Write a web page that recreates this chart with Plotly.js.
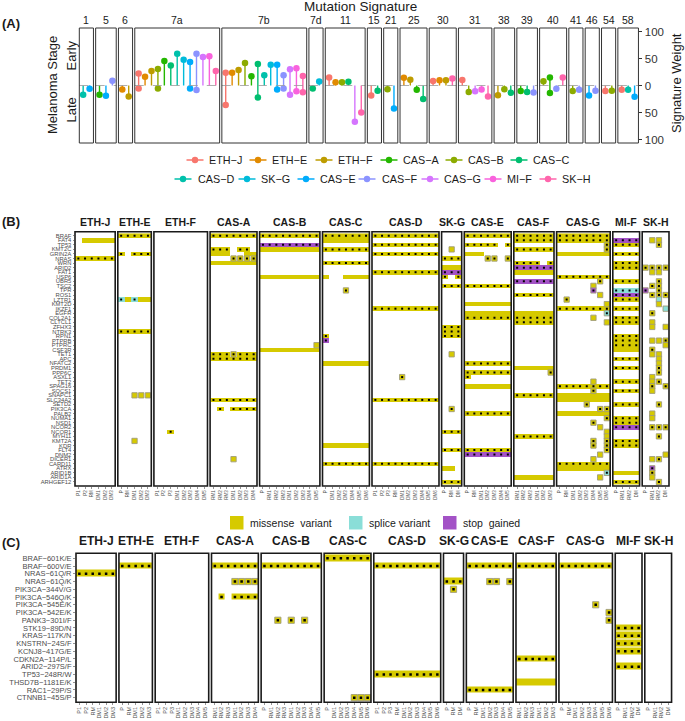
<!DOCTYPE html>
<html><head><meta charset="utf-8">
<script src="https://cdn.plot.ly/plotly-3.0.1.min.js"></script>
<style>html,body{margin:0;padding:0;background:#fff}</style>
</head><body><div id="chart" style="width:685px;height:721px"></div>
<script>
// ================= DATA =================
// Panel A : mutation signatures (early = up, late = down)
const sigNames = ['1','5','6','7a','7b','7d','11','15','21','25','30','31','38','39','40','41','46','54','58'];
const sigPatients = [
 ['CAS-D','CAS-E'],
 ['CAS-A','CAS-E','CAS-F'],
 ['ETH-E','ETH-F'],
 ['ETH-J','ETH-E','ETH-F','CAS-B','CAS-A','CAS-C','CAS-D','SK-G','CAS-E','CAS-F','CAS-G','MI-F','SK-H'],
 ['ETH-J','ETH-E','ETH-F','CAS-B','CAS-A','CAS-C','CAS-D','SK-G','CAS-E','CAS-F','CAS-G','MI-F','SK-H'],
 ['CAS-C','SK-G'],
 ['ETH-J','ETH-E','CAS-B','CAS-C','CAS-G','SK-H'],
 ['ETH-J','CAS-C'],
 ['CAS-B','CAS-E'],
 ['ETH-E','ETH-F','CAS-A','CAS-C'],
 ['ETH-J','ETH-E','ETH-F','SK-H'],
 ['ETH-J','CAS-B','CAS-G','MI-F','SK-H'],
 ['ETH-F','CAS-B','CAS-C'],
 ['CAS-A','CAS-C','CAS-F'],
 ['CAS-B','CAS-A','CAS-F','SK-H'],
 ['CAS-B','CAS-F'],
 ['CAS-E','CAS-F'],
 ['ETH-J','CAS-B'],
 ['ETH-J','CAS-D','CAS-E']
];
const sigEarly = [
 [0,0],[0,0,9],[0,0],
 [22,16,27,30.5,45.5,37,59,47.5,43.5,59,53,54,27],
 [23.5,23.5,28.5,41.5,17,40,19,38.5,38.5,19,30,32,17.5],
 [0,7.5],[15,6,6,7,0,0],[0,0],[0,0],[14.5,10.5,0,0],[8.5,9.5,9.5,13],
 [10,0,0,0,0],[0,0,0],[0,0,0],[8,15,0,15],[0,0],[0,0],[0,0],[0,0,0]
];
const sigLate = [
 [17,6],[17,19,0],[7.5,20.5],
 [5.5,0,0,5.5,0,0,0,0,5.5,8.5,0,0,0],
 [36,0,0,0,0,22,0,0,7.5,5.5,17,10.5,12.5],
 [5.5,0],[0,0,0,0,67,50],[18.5,9.5],[7,42.5],[0,0,8,25],[0,0,0,0],
 [0,12,10.5,7.5,20.5],[18,7,13.5],[10,12,13],[0,14,6,0],[10,8],[18.5,9.5],[10,9.5],[8,8,21]
];
const patientNames  = ['ETH-J','ETH-E','ETH-F','CAS-B','CAS-A','CAS-C','CAS-D','SK-G','CAS-E','CAS-F','CAS-G','MI-F','SK-H'];
const patientColors = ['#F8766D','#E18A00','#BE9C00','#8CAB00','#24B700','#00BE70','#00C1AB','#00BBDA','#00ACFC','#8B93FF','#D575FE','#F962DD','#FF65AC'];
const legendRow1 = ['ETH-J','ETH-E','ETH-F','CAS-A','CAS-B','CAS-C'];
const legendRow2 = ['CAS-D','SK-G','CAS-E','CAS-F','CAS-G','MI-F','SK-H'];

// Panels B & C : facets and samples
const facets = ['ETH-J','ETH-E','ETH-F','CAS-A','CAS-B','CAS-C','CAS-D','SK-G','CAS-E','CAS-F','CAS-G','MI-F','SK-H'];
const sampleLabels = [
 ['P1','P2','RM','DM1','DM2','DM3'],
 ['P','RM','DM1','DM2','DM3'],
 ['P1','P2','P3','DM1','DM2','DM3','DM4','DM5'],
 ['RM1','RM2','RM3','DM1','DM2','DM3','DM4'],
 ['P','RM1','RM2','RM3','DM1','DM2','DM3','DM4','DM5'],
 ['P','DM1','DM2','DM3','DM4','DM5','DM6'],
 ['P1','P2','P3','RM','DM1','DM2','DM3','DM4','DM5','DM6'],
 ['P','RM','DM'],
 ['P','RM','DM1','DM2','DM3','DM4','DM5'],
 ['RM1','RM2','RM3','DM1','DM2','DM3'],
 ['P','RM','DM1','DM2','DM3','DM4','DM5','DM6'],
 ['P','RM1','RM2','DM'],
 ['P','RM1','RM2','DM']
];
const genesB = ['BRAF','FAT4','TP53','KMT2C','GRIN2A','NRAS','WRN','ARID2','FAT1','USP6','UBR5','TSC2','TPR','ROS1','LZTR1','KMT2D','IKZF1','EGFR','COL2A1','CLTCL1','ZFHX3','NTRK3','RPN1','PTPRB','PTPRC','CSF3R','TET1','APC','NFATC2','PRDM1','PPP6C','ASXL1','TET2','SPAG16','SOCS1','SNAPC1','SLC34A2','SETD2','PIK3CA','PALB2','NUMA1','NSD1','NCOR2','NCOR1','MYH11','KMT2A','KDR','FLT4','DNM2','DICER1','CARD11','ATRX','ARID1B','ARID1A','ARHGEF12'];
// cell codes: m missense, s splice, x stop gained ; upper case = marked (dot) ;
// b/B, c/C, p/P = same three types drawn as outlined single tiles
const mutB = [
 ['1:.mmmmm','5:MMMMMM'],
 ['0:MMMMM','4:M.MMM','14:SmSmm','21:MMMMM','35:..bbb','45:..b..'],
 ['43:..M.....'],
 ['0:MMMMMMM','3:MMM.MM.','4:mmm..mm','5:...BBBB','6:mmmmmmm','26:MMMBMMM','27:MMMMMMM','36:MMMMMMM','38:.M.MMMM','49:...b...'],
 ['0:MMMMMMMMM','2:XXXXXXXXX','3:mmmmmmmmm','9:mmmmmmmmm','24:........b','25:mmmmmmmmm'],
 ['0:MMMMMMM','1:mmmmmmm','3:MMMMMMM','6:MMMMMMM','9:m..mmmm','12:...B...','22:M......','23:X......','28:mmmmmmm','46:mmmmmmm','50:MMMMMMM'],
 ['0:MMMMMMMMMM','2:MMMMMMMMMM','4:MMMMMMMMMM','8:MMMMMMMMMM','16:MMMMMMMMMM','31:....B.....','36:MMMMMMMMMM','50:MMMMMMMMMM'],
 ['3:.b.','5:MMM','7:mmm','8:XXX','9:M.M','11:MMM','20:MMM','21:MMM','22:MMM','26:.b.','38:.B.','43:MMM','47:MMM','51:mm.','54:MMM'],
 ['0:MMMMMMM','2:MMMMM.M','4:mmm....','5:...BB.B','11:MMMMMMM','15:mmmmmmm','17:mmmmmmm','18:MMMMMMM','28:MMMMMMM','30:MMMMMMM','31:M......','33:mmmmmmm','39:MMMMMMM','47:MMMMMMM','48:XXXXXXX'],
 ['0:MMMMMM','1:MMMMMM','3:MMMMMM','6:MMMM.M','7:XXXXXX','8:mmmmmm','10:XXXXXX','13:MMMMMM','17:mmmmmm','18:MMMMMM','19:MMMMMM','29:mmmmmm','30:.....B','35:MMMMMM','44:MMMMMM','53:mmmmmm'],
 ['0:MMMMMMMM','1:MMMMMMMM','2:.......B','3:.......B','4:mmmmmmmm','9:MMMMMMMM','10:......B.','11:.....b..','12:.....P..','13:......b.','14:.B......','15:.......b','16:MMMMMMMM','17:.......C','18:.....b..','19:.......b','32:.....b..','33:MMMMMMMM','34:.....B..','35:mmmmmmmm','36:mmmmmmmm','37:....B...','38:......BB','39:mmmmmmmm','40:.......B','41:.....B..','42:......b.','43:.......b','44:.......b','45:.....B.B','46:.....B.B','47:.......B','48:......b.','49:.....b..','50:MMMMMMMM','51:mmmmmmmm','52:.......C','53:......b.'],
 ['1:XXXX','2:MMMM','4:MMMM','6:MMMM','7:MMMM','10:MMMM','12:SSSS','13:XXXX','14:MMMM','16:MMMM','18:MMMM','19:MMMM','22:MMMM','23:MMMM','24:MMMM','25:mmmm','27:MMMM','29:MMMM','32:MMMM','34:MMMM','37:MMMM','40:MMMM','41:MMMM','42:XXXX','45:MMMM','46:MMMM','52:mmmm','54:MMMM'],
 ['1:.bb.','2:..B.','7:BBBB','8:.bb.','10:..B.','11:.BB.','12:P.B.','13:.BBB','14:..c.','15:..b.','16:...c','17:.B..','19:.b..','20:.b.b','23:.bbB','24:...b','25:.B..','26:.bb.','27:..b.','28:..b.','29:..B.','30:..B.','31:.b..','32:.bB.','33:.B.B','34:.b..','37:..B.','39:.b..','40:.b..','42:.BBB','44:..B.','48:...b','49:.bB.','51:.P..','52:.B..','53:.b..','54:..B.']
];
const mutationsC = ['BRAF-601K/E','BRAF-600V/E','NRAS-61Q/R','NRAS-61Q/K','PIK3CA-344V/G','PIK3CA-546Q/K','PIK3CA-545E/K','PIK3CA-542E/K','PANK3-301I/F','STK19-89D/N','KRAS-117K/N','KNSTRN-24S/F','KCNJ8-417G/E','CDKN2A-114P/L','ARID2-297S/F','TP53-248R/W','THSD7B-1181E/K','RAC1-29P/S','CTNNB1-45S/P'];
const mutC = [
 ['2:MMMMMM'],
 ['1:MMMMM'],
 [],
 ['1:MMMMMMM','3:...BBBB','5:.M.MMMM'],
 ['1:MMMMMMMMM','8:..B.B.B..'],
 ['0:MMMMMMM','18:....BBB'],
 ['1:MMMMMMMMMM','15:MMMMMMMMMM'],
 ['3:MMM','4:.B.'],
 ['1:MMMMMMM','3:...BB.B','17:MMMMMMM'],
 ['1:MMMMMM','13:MMMMMM','16:mmmmmm'],
 ['1:MMMMMMMM','6:.....B..','7:.......B','8:.......B'],
 ['9:MMMM','10:MMMM','11:MMMM','12:MMMM','14:MMMM'],
 []
];
const variantTypes = ['missense  variant','splice variant','stop  gained'];

// ================= STYLE / LAYOUT =================
const W=685,H=721;
const px=x=>x/W, py=y=>1-y/H;
const FONT='Liberation Sans, Arial, Helvetica, sans-serif';
const TXT='#1a1a1a', AX='#4d4d4d';
const TYPECOL=[null,'#D6CA00','#8ADED8','#A352C6'];
const BORDER='#A09D7C';
const MINUS=s=>s.replace(/-/g,'\u2212');
const colorOf={}; patientNames.forEach((p,i)=>colorOf[p]=patientColors[i]);

const traces=[], shapes=[], annotations=[];
const layout={width:W,height:H,margin:{l:0,r:0,t:0,b:0},paper_bgcolor:'#fff',plot_bgcolor:'rgba(0,0,0,0)',
  showlegend:false,font:{family:FONT,color:TXT},shapes,annotations};
const axName=k=>k===1?'xaxis':'xaxis'+k;
const axRef=k=>k===1?'x':'x'+k;
function ann(o){annotations.push(Object.assign({showarrow:false,xref:'paper',yref:'paper',xanchor:'center',yanchor:'middle'},o));}

// ---------- Panel A ----------
layout.yaxis={domain:[py(143),py(28)],range:[-106.5,106.5],anchor:'x19',side:'right',
  tickmode:'array',tickvals:[-100,-50,0,50,100],ticktext:['100','50','0','50','100'],
  ticks:'outside',ticklen:3,tickcolor:'#333',tickfont:{size:11.5,color:'#333'},
  showgrid:false,zeroline:false,showline:false,fixedrange:true};
let xa=79.3; const uA=6.43,gA=2.2;
sigNames.forEach((s,i)=>{
  const k=i+1, xr=axRef(k), n=sigPatients[i].length, w=(n+0.2)*uA;
  layout[axName(k)]={domain:[px(xa),px(xa+w)],range:[-0.6,n-0.4],anchor:'y',showgrid:false,zeroline:false,
    showticklabels:false,ticks:'',showline:false,fixedrange:true};
  shapes.push({type:'line',xref:xr+' domain',yref:'y',x0:0,x1:1,y0:0,y1:0,line:{color:'#9a9a9a',width:0.8,dash:'dash'}});
  shapes.push({type:'rect',xref:xr+' domain',yref:'y domain',x0:0,x1:1,y0:0,y1:1,line:{color:'#333',width:1}});
  ann({xref:xr+' domain',x:0.5,y:py(20),text:s,font:{size:10.5,color:TXT}});
  const dx=[],dy=[],dc=[];
  sigPatients[i].forEach((p,j)=>{
    const e=sigEarly[i][j], l=sigLate[i][j], col=colorOf[p];
    traces.push({type:'scatter',mode:'lines',x:[j,j],y:[-l,e],xaxis:xr,yaxis:'y',line:{color:col,width:1.4},hoverinfo:'skip'});
    if(e>0){dx.push(j);dy.push(e);dc.push(col);}
    if(l>0){dx.push(j);dy.push(-l);dc.push(col);}
  });
  traces.push({type:'scatter',mode:'markers',x:dx,y:dy,xaxis:xr,yaxis:'y',marker:{size:6.5,color:dc},hoverinfo:'skip'});
  xa+=w+gA;
});
ann({x:px(360),y:py(7),text:'Mutation Signature',font:{size:13.5,color:TXT}});
ann({x:px(11),y:py(24),text:'<b>(A)</b>',font:{size:13,color:TXT}});
ann({x:px(53),y:py(85),text:'Melanoma Stage',textangle:-90,font:{size:13,color:TXT}});
ann({x:px(71.5),y:py(56),text:'Early',textangle:-90,font:{size:13,color:TXT}});
ann({x:px(71.5),y:py(110),text:'Late',textangle:-90,font:{size:13,color:TXT}});
ann({x:px(677),y:py(83),text:'Signature Weight',textangle:-90,font:{size:13,color:TXT}});

// legend for panel A
const LEG1_ICON=[195,258,324,389,454,519], LEG1_TEXT=[207,270,336,401,466,531];
const LEG2_ICON=[183,247,306,367,430,493,548], LEG2_TEXT=[196,259,318,380,442,505,560];
function legendItem(name,cx,tx,cy){
  const col=colorOf[name];
  shapes.push({type:'line',xref:'paper',yref:'paper',x0:px(cx-8.5),x1:px(cx+8.5),y0:py(cy),y1:py(cy),line:{color:col,width:1.5}});
  shapes.push({type:'circle',xref:'paper',yref:'paper',x0:px(cx-3.2),x1:px(cx+3.2),y0:py(cy+3.2),y1:py(cy-3.2),fillcolor:col,line:{width:0}});
  ann({x:px(tx),y:py(cy),xanchor:'left',text:MINUS(name),font:{size:10.8,color:TXT}});
}
legendRow1.forEach((n,i)=>legendItem(n,LEG1_ICON[i],LEG1_TEXT[i],160));
legendRow2.forEach((n,i)=>legendItem(n,LEG2_ICON[i],LEG2_TEXT[i],179));

// ---------- helpers for B / C ----------
const CODE={m:[1,0,0],M:[1,1,0],s:[2,0,0],S:[2,1,0],x:[3,0,0],X:[3,1,0],
            b:[1,0,1],B:[1,1,1],c:[2,0,1],C:[2,1,1],p:[3,0,1],P:[3,1,1]};
function parse(rows,nRows,n){
  const z=[...Array(nRows)].map(()=>Array(n).fill(null));
  const dots={x:[],y:[]}, box={x:[],y:[],c:[]}; let any=false;
  rows.forEach(r=>{
    const [ri,pat]=r.split(':'); const yi=+ri;
    [...pat].forEach((ch,j)=>{
      const c=CODE[ch]; if(!c) return;
      if(c[2]){box.x.push(j);box.y.push(yi);box.c.push(TYPECOL[c[0]]);}
      else {z[yi][j]=c[0]; any=true;}
      if(c[1]){dots.x.push(j);dots.y.push(yi);}
    });
  });
  return {z,dots,box,any};
}
const CS=[[0,TYPECOL[1]],[0.25,TYPECOL[1]],[0.25,TYPECOL[2]],[0.75,TYPECOL[2]],[0.75,TYPECOL[3]],[1,TYPECOL[3]]];
function panel(opts){
  const {k0,yref,data,labels,start,cw,gap,tickSize,ygap,boxSize,dotSize,headerY,headerSize} = opts;
  let xs=start;
  facets.forEach((f,i)=>{
    const k=k0+i, xr=axRef(k), n=sampleLabels[i].length, w=n*cw;
    layout[axName(k)]={domain:[px(xs),px(xs+w)],range:[-0.5,n-0.5],anchor:yref,tickmode:'array',
      tickvals:[...Array(n).keys()],ticktext:sampleLabels[i],tickangle:-90,
      tickfont:{size:tickSize,color:AX},ticks:'outside',ticklen:1.5,tickwidth:0.6,tickcolor:AX,
      showgrid:false,zeroline:false,showline:false,fixedrange:true};
    const d=parse(data[i],labels.length,n);
    traces.push({type:'scatter',x:[],y:[],xaxis:xr,yaxis:yref,hoverinfo:'skip'});
    if(d.any) traces.push({type:'heatmap',x:[...Array(n).keys()],y:[...Array(labels.length).keys()],z:d.z,
      zmin:1,zmax:3,colorscale:CS,showscale:false,xgap:0,ygap:ygap,xaxis:xr,yaxis:yref,hoverinfo:'skip'});
    if(d.box.x.length) traces.push({type:'scatter',mode:'markers',x:d.box.x,y:d.box.y,xaxis:xr,yaxis:yref,
      marker:{symbol:'square',size:boxSize,color:d.box.c,line:{color:BORDER,width:0.9}},hoverinfo:'skip'});
    if(d.dots.x.length) traces.push({type:'scatter',mode:'markers',x:d.dots.x,y:d.dots.y,xaxis:xr,yaxis:yref,
      marker:{symbol:'square',size:dotSize,color:'#000'},hoverinfo:'skip'});
    shapes.push({type:'rect',xref:xr+' domain',yref:yref+' domain',x0:0,x1:1,y0:0,y1:1,line:{color:'#1a1a1a',width:1.6}});
    ann({xref:xr+' domain',x:0.5,y:py(headerY),text:'<b>'+f+'</b>',font:{size:headerSize,color:TXT}});
    xs+=w+gap;
  });
}

// ---------- Panel B ----------
layout.yaxis2={domain:[py(486),py(231.7)],range:[54.88,-0.88],anchor:'x20',tickmode:'array',
  tickvals:[...Array(genesB.length).keys()],ticktext:genesB,tickfont:{size:5.8,color:AX},
  ticks:'outside',ticklen:1.5,tickwidth:0.6,tickcolor:AX,showgrid:false,zeroline:false,showline:false,fixedrange:true};
panel({k0:20,yref:'y2',data:mutB,labels:genesB,start:75,cw:6.70,gap:2.6,tickSize:4.5,ygap:0,
  boxSize:5.3,dotSize:2,headerY:222,headerSize:10.5});
ann({x:px(11),y:py(222),text:'<b>(B)</b>',font:{size:13,color:TXT}});

// legend for variant types
const VT_BOX=[230,349,443], VT_TXT=[248,367,461];
variantTypes.forEach((t,i)=>{
  shapes.push({type:'rect',xref:'paper',yref:'paper',x0:px(VT_BOX[i]),x1:px(VT_BOX[i]+13.5),y0:py(529.5),y1:py(516),
    fillcolor:TYPECOL[i+1],line:{width:0}});
  ann({x:px(VT_TXT[i]),y:py(522.7),xanchor:'left',text:t.replace(/  /g,'&nbsp; '),font:{size:10.5,color:TXT}});
});

// ---------- Panel C ----------
layout.yaxis3={domain:[py(702.3),py(553.3)],range:[18.6,-0.65],anchor:'x33',tickmode:'array',
  tickvals:[...Array(mutationsC.length).keys()],ticktext:mutationsC.map(MINUS),tickfont:{size:7.5,color:AX},
  ticks:'outside',ticklen:2,tickwidth:0.6,tickcolor:AX,showgrid:false,zeroline:false,showline:false,fixedrange:true};
panel({k0:33,yref:'y3',data:mutC,labels:mutationsC,start:76,cw:6.69,gap:2.8,tickSize:5.5,ygap:1,
  boxSize:6.2,dotSize:2.5,headerY:541,headerSize:12});
ann({x:px(11),y:py(542),text:'<b>(C)</b>',font:{size:13,color:TXT}});

Plotly.newPlot('chart',traces,layout,{displayModeBar:false,staticPlot:true});
</script></body></html>
